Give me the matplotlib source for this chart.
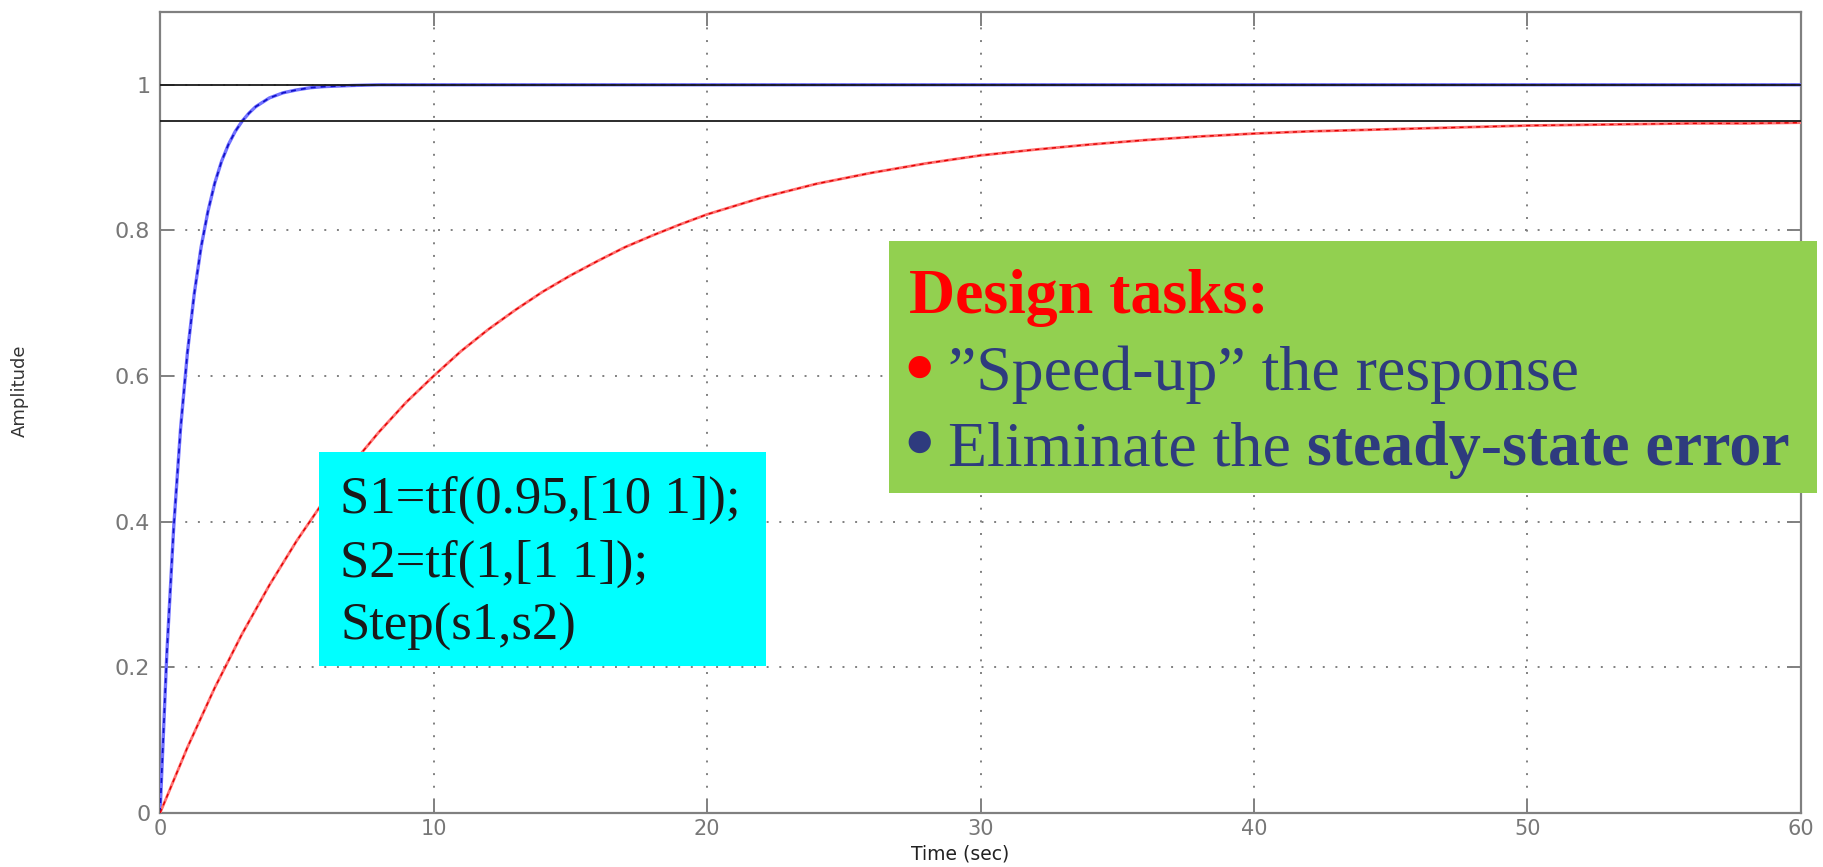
"""
Step responses of s1 = 0.95/(10s+1) and s2 = 1/(s+1), with the design notes.
"""
import matplotlib
matplotlib.use("Agg")
import matplotlib.pyplot as plt
from matplotlib.patches import Rectangle

# step response of s2 = 1/(s+1)
t_fast = [0, 0.25, 0.5, 0.75, 1.0, 1.25, 1.5, 1.75, 2.0, 2.25, 2.5, 2.75, 3.0, 3.25, 3.5, 3.75,
          4.0, 4.5, 5.0, 5.5, 6.0, 7.0, 8.0, 60.0]
y_fast = [0, 0.221, 0.393, 0.528, 0.632, 0.713, 0.777, 0.826, 0.865, 0.895, 0.918, 0.936,
          0.950, 0.961, 0.970, 0.976, 0.982, 0.989, 0.993, 0.996, 0.9975, 0.999, 1.0, 1.0]

# step response of s1 = 0.95/(10s+1)
t_slow = [0, 1, 2, 3, 4, 5, 6, 7, 8, 9, 10, 11, 12, 13, 14, 15, 16, 17, 18, 19, 20, 22, 24,
          26, 28, 30, 32, 34, 36, 38, 40, 42, 44, 46, 48, 50, 52, 54, 56, 58, 60]
y_slow = [0, 0.090, 0.172, 0.246, 0.313, 0.374, 0.429, 0.478, 0.523, 0.564, 0.600, 0.634,
          0.664, 0.691, 0.716, 0.738, 0.758, 0.777, 0.793, 0.808, 0.822, 0.845, 0.864, 0.879,
          0.892, 0.903, 0.911, 0.918, 0.924, 0.929, 0.933, 0.936, 0.938, 0.940, 0.942, 0.944,
          0.945, 0.946, 0.947, 0.947, 0.948]

ref_levels = [1.0, 0.95]
x_ticks = [0, 10, 20, 30, 40, 50, 60]
y_ticks = [0, 0.2, 0.4, 0.6, 0.8, 1.0]

code_lines = ["S1=tf(0.95,[10 1]);", "S2=tf(1,[1 1]);", "Step(s1,s2)"]
task_title = "Design tasks:"
task_1 = "\u201dSpeed-up\u201d the response"
task_2a = "Eliminate the "
task_2b = "steady-state error"

GRAY = "#808080"
NAVY = "#2E3B7E"
W, H = 1823, 867

fig = plt.figure(figsize=(18.23, 8.67), dpi=100)
ax = fig.add_axes([0.0878, 0.0623, 0.9001, 0.9239])

# curves: light solid line with darker dashes on top (MATLAB print look)
ax.plot(t_fast, y_fast, color="#7070ff", lw=2.4, zorder=3)
ax.plot(t_fast, y_fast, color="#1010c8", lw=1.2, ls=(0, (3, 3)), zorder=4)
ax.plot(t_slow, y_slow, color="#ff7070", lw=2.0, zorder=3)
ax.plot(t_slow, y_slow, color="#e00000", lw=1.0, ls=(0, (3, 3)), zorder=4)

for lvl in ref_levels:
    ax.axhline(lvl, color="#1a1a1a", lw=1.3, zorder=5)

ax.set_xlim(0, 60)
ax.set_ylim(0, 1.1)
ax.set_xticks(x_ticks)
ax.set_yticks(y_ticks)
ax.set_xticklabels([f"{v:g}" for v in x_ticks])
ax.set_yticklabels([f"{v:g}" for v in y_ticks])

ax.grid(True, color=GRAY, lw=1.4, ls=(0, (1, 5.5)))
ax.tick_params(direction="in", length=10, width=1.4, color=GRAY, top=True, right=True,
               labelsize=16, labelcolor="#777777", pad=7)
ax.tick_params(axis="x", labelsize=15, pad=4)
for sp in ax.spines.values():
    sp.set_color(GRAY)
    sp.set_linewidth(1.6)

ax.set_xlabel("Time (sec)", fontsize=13.5, color="#222222")
ax.xaxis.set_label_coords(0.4875, -0.039)
ax.set_ylabel("Amplitude", fontsize=13, color="#333333")
ax.yaxis.set_label_coords(-0.08, 0.527)

# cyan box with the MATLAB commands
fig.patches.append(Rectangle((319 / W, 1 - 666 / H), 447 / W, 214 / H, transform=fig.transFigure,
                             facecolor="#00FFFF", edgecolor="none", zorder=10))
for i, line in enumerate(code_lines):
    fig.text(340 / W, 1 - (513 + 63.5 * i) / H, line, family="Liberation Serif",
             fontsize=38, color="#1a1a1a", va="baseline", zorder=11)

# green box with the design tasks
fig.patches.append(Rectangle((889 / W, 1 - 493 / H), 928 / W, 252 / H, transform=fig.transFigure,
                             facecolor="#92D050", edgecolor="none", zorder=10))
fig.text(909 / W, 1 - 313 / H, task_title, family="Liberation Serif", weight="bold",
         fontsize=46, color="#FF0000", va="baseline", zorder=11)
fig.text(919 / W, 1 - 367 / H, "\u25cf", family="DejaVu Sans", fontsize=21,
         color="#FF0000", ha="center", va="center", zorder=11)
fig.text(948 / W, 1 - 390 / H, task_1, family="Liberation Serif",
         fontsize=46, color=NAVY, va="baseline", zorder=11)
fig.text(919 / W, 1 - 442 / H, "\u25cf", family="DejaVu Sans", fontsize=21,
         color=NAVY, ha="center", va="center", zorder=11)
t2 = fig.text(948 / W, 1 - 465 / H, task_2a, family="Liberation Serif",
              fontsize=46, color=NAVY, va="baseline", zorder=11)
fig.add_artist(plt.Annotation(task_2b, xy=(1, 0), xycoords=t2, va="bottom", ha="left",
                              family="Liberation Serif", weight="bold", fontsize=46,
                              color=NAVY, zorder=11))

fig.savefig("out.png", dpi=100)
